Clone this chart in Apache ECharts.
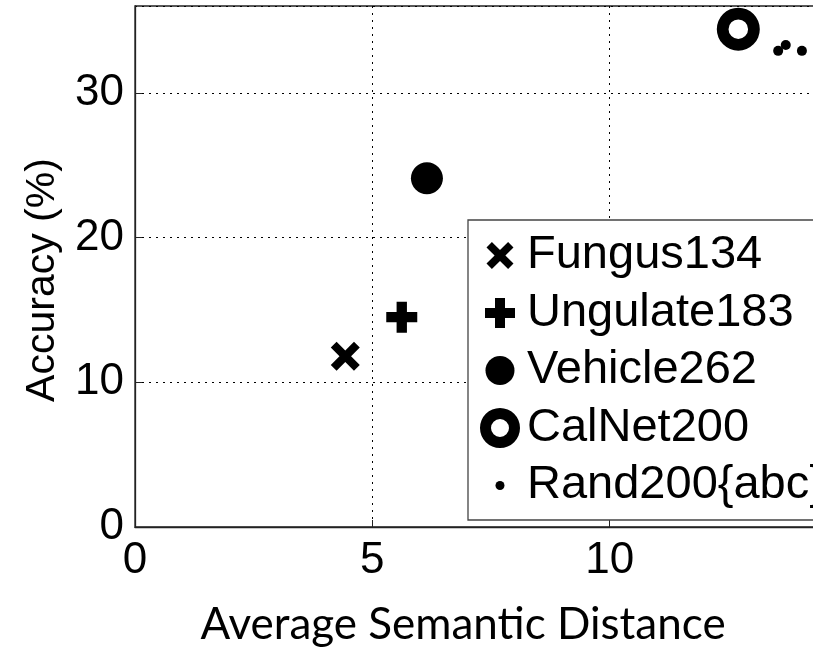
<!DOCTYPE html>
<html>
<head>
<meta charset="utf-8">
<script src="https://cdn.jsdelivr.net/npm/echarts@6/dist/echarts.min.js"></script>
<style>
  html, body { margin: 0; padding: 0; background: #fff; }
  #chart { width: 813px; height: 655px; }
</style>
</head>
<body>
<div id="chart"></div>
<script>
// Accuracy vs. average semantic distance for each dataset
const fungus134   = [[4.43, 11.8]];
const ungulate183 = [[5.62, 14.5]];
const vehicle262  = [[6.15, 24.1]];
const calNet200   = [[12.71, 34.4]];
const rand200abc  = [[13.55, 32.9], [13.71, 33.3], [14.05, 32.9]];

const seriesNames = ['Fungus134', 'Ungulate183', 'Vehicle262', 'CalNet200', 'Rand200{abc}'];
const xTicks = [0, 5, 10];
const yTicks = [0, 10, 20, 30];

// ---- marker shapes as SVG path strings ----
const CROSS_PTS = [[0,.2],[.2,0],[.5,.3],[.8,0],[1,.2],[.7,.5],[1,.8],[.8,1],[.5,.7],[.2,1],[0,.8],[.3,.5]];
const PLUS_PTS = [[1/3,0],[2/3,0],[2/3,1/3],[1,1/3],[1,2/3],[2/3,2/3],[2/3,1],[1/3,1],[1/3,2/3],[0,2/3],[0,1/3],[1/3,1/3]];

function poly(pts, s, c) {
  return 'M' + pts.map(p => (c - s / 2 + p[0] * s).toFixed(2) + ' ' + (c - s / 2 + p[1] * s).toFixed(2)).join('L') + 'Z';
}
function circ(r, c, sweep) {
  return `M${c - r} ${c}A${r} ${r} 0 1 ${sweep} ${c + r} ${c}A${r} ${r} 0 1 ${sweep} ${c - r} ${c}Z`;
}
function ring(rOut, rIn, c) {
  return circ(rOut, c, 1) + circ(rIn, c, 0);
}

// series markers (scaled by symbolSize)
const crossSym = 'path://' + poly(CROSS_PTS, 30, 15);
const plusSym  = 'path://' + poly(PLUS_PTS, 30, 15);
const ringSym  = 'path://' + ring(22, 10, 22);

// legend icons: drawn inside a fixed 44x44 box so all icons share one centre
const BOX = 44, C = 22;
const pad = 'M0 0M' + BOX + ' ' + BOX;
const legendIcons = [
  'path://' + pad + poly(CROSS_PTS, 27, C),
  'path://' + pad + poly(PLUS_PTS, 30, C),
  'path://' + pad + circ(14.5, C, 1),
  'path://' + pad + ring(20, 9, C),
  'path://' + pad + circ(4.5, C, 1)
];

const FONT = 'Liberation Sans, Arial, sans-serif';
const chart = echarts.init(document.getElementById('chart'), null, { renderer: 'canvas' });

const gridDash = { color: '#000', width: 1, type: [2, 5] };
const solid = { color: '#000', opacity: 1 };

chart.setOption({
  animation: false,
  backgroundColor: '#fff',
  grid: {
    left: 135, top: 6, width: 712, height: 521,
    outerBoundsMode: 'none',
    containLabel: false,
    show: true, borderColor: '#222', borderWidth: 1.3, backgroundColor: 'transparent'
  },
  xAxis: {
    type: 'value', min: 0, max: 15, interval: 5,
    name: 'Average Semantic Distance',
    nameLocation: 'middle', nameGap: 76,
    nameTextStyle: { fontFamily: 'Lato, sans-serif', fontSize: 44, color: '#000', padding: [0, 56, 0, 0] },
    axisLine: { show: true, lineStyle: { color: '#222', width: 1.3 } },
    axisTick: { show: true, inside: true, length: 7, lineStyle: { color: '#222' } },
    axisLabel: {
      margin: 12, fontFamily: FONT, fontSize: 44, color: '#000',
      formatter: v => xTicks.includes(v) ? String(v) : ''
    },
    splitLine: { show: true, lineStyle: gridDash }
  },
  yAxis: {
    type: 'value', min: 0, max: 36, interval: 10,
    name: 'Accuracy (%)',
    nameLocation: 'middle', nameGap: 72,
    nameTextStyle: { fontFamily: FONT, fontSize: 41, color: '#000', padding: [0, 27, 0, 0] },
    axisLine: { show: true, lineStyle: { color: '#222', width: 1.3 } },
    axisTick: { show: true, inside: true, length: 7, lineStyle: { color: '#222' } },
    axisLabel: {
      margin: 11, fontFamily: FONT, fontSize: 44, color: '#000',
      showMaxLabel: false,
      formatter: v => yTicks.includes(v) ? String(v) : ''
    },
    splitLine: { show: true, lineStyle: gridDash }
  },
  legend: {
    orient: 'vertical',
    left: 468, top: 220,
    padding: [12, 10, 11, 10],
    itemWidth: BOX, itemHeight: BOX, itemGap: 10.5,
    backgroundColor: '#fff',
    borderColor: '#444', borderWidth: 1.3, borderRadius: 0,
    selectedMode: false,
    textStyle: { fontFamily: FONT, fontSize: 47, color: '#000', lineHeight: 44 },
    data: seriesNames.map((n, i) => ({
      name: n, icon: legendIcons[i],
      itemStyle: { color: '#000', opacity: 1, borderWidth: 0 }
    }))
  },
  series: [
    { name: seriesNames[0], type: 'scatter', data: fungus134,
      symbol: crossSym, symbolSize: 29, itemStyle: solid },
    { name: seriesNames[1], type: 'scatter', data: ungulate183,
      symbol: plusSym, symbolSize: 31, itemStyle: solid },
    { name: seriesNames[2], type: 'scatter', data: vehicle262,
      symbol: 'circle', symbolSize: 32, itemStyle: solid },
    { name: seriesNames[3], type: 'scatter', data: calNet200,
      symbol: ringSym, symbolSize: 43, itemStyle: solid },
    { name: seriesNames[4], type: 'scatter', data: rand200abc,
      symbol: 'circle', symbolSize: 10, itemStyle: solid }
  ]
});
</script>
</body>
</html>
